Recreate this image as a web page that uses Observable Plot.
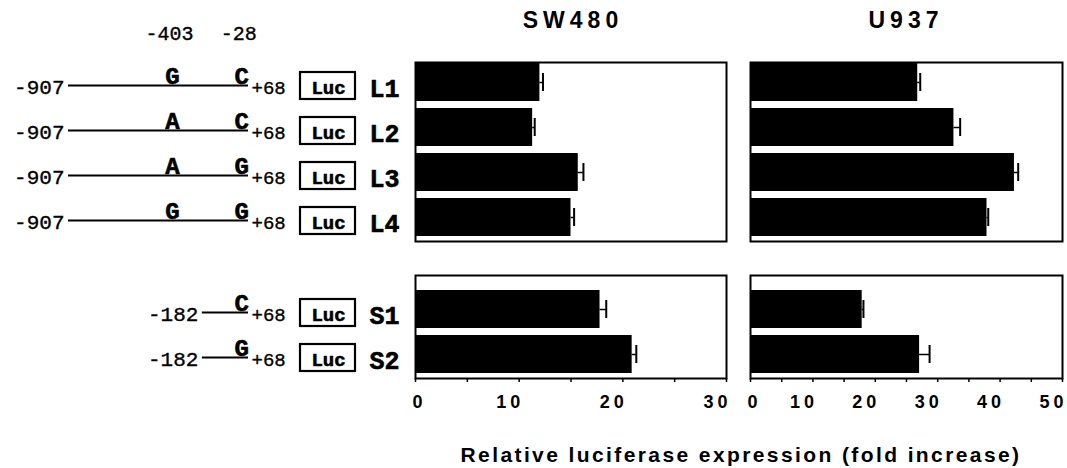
<!DOCTYPE html>
<html><head><meta charset="utf-8">
<script src="https://cdn.jsdelivr.net/npm/d3@7"></script>
<script src="https://cdn.jsdelivr.net/npm/@observablehq/plot@0.6"></script>
<style>
body{margin:0;background:#fff;}
#wrap{position:relative;width:1067px;height:468px;overflow:hidden;background:#fff;font-family:"Liberation Sans",Arial,sans-serif;color:#000;}
#wrap svg{position:absolute;overflow:visible;background:none;}
.title{position:absolute;font-weight:bold;font-size:23px;letter-spacing:5px;transform:translateX(-50%);white-space:nowrap;line-height:1;}
g[aria-label="x-axis tick label"] text{letter-spacing:4px;}
</style></head>
<body><div id="wrap"></div>
<script>
// ---- data ----
const longIds = ["L1", "L2", "L3", "L4"];
const shortIds = ["S1", "S2"];
const longStart = -907;
const shortStart = -182;
const endPos = 68;
const snpPositions = [-403, -28];
const allele403Long = ["G", "A", "A", "G"];
const allele28Long = ["C", "C", "G", "G"];
const allele28Short = ["C", "G"];
const sw480Long = [12.0, 11.3, 15.7, 15.0];
const sw480LongErr = [0.3, 0.2, 0.5, 0.3];
const sw480Short = [17.8, 20.9];
const sw480ShortErr = [0.6, 0.4];
const u937Long = [26.8, 32.6, 42.3, 37.9];
const u937LongErr = [0.4, 1.0, 0.6, 0.2];
const u937Short = [17.9, 27.1];
const u937ShortErr = [0.2, 1.6];
const sw480Max = 30;
const u937Max = 50;
const panelTitles = ["SW480", "U937"];
const xAxisTitle = "Relative luciferase expression (fold increase)";

// ---- layout ----
const wrap = document.getElementById("wrap");
const topGroup = {top: 0, height: 251, mT: 62, mB: 10, insetTop: 0, insetBottom: 4};
const botGroup = {top: 265, height: 203, mT: 10, mB: 90, insetTop: 15, insetBottom: 5};

function place(svg, left, top) {
  svg.style.left = left + "px";
  svg.style.top = top + "px";
  wrap.appendChild(svg);
}

function barPanel(ids, values, errs, g, left, width, mL, mR, xMax, withAxis) {
  const rows = ids.map((id, i) => ({id, value: values[i], err: errs[i]}));
  const marks = [
    Plot.barX(rows, {x: "value", y: "id", fill: "black"}),
    Plot.ruleY(rows, {y: "id", x1: "value", x2: d => d.value + d.err, stroke: "black", strokeWidth: 1.5}),
    Plot.tickX(rows, {x: d => d.value + d.err, y: "id", stroke: "black", strokeWidth: 2, insetTop: 10, insetBottom: 10}),
    Plot.frame({stroke: "black", strokeWidth: 2})
  ];
  if (withAxis) {
    const majors = d3.range(0, xMax + 1, 10);
    marks.push(Plot.axisX({
      ticks: d3.range(0, xMax + 1, 5), tickFormat: () => "",
      tickSize: 4, label: null, strokeWidth: 1.5
    }));
    marks.push(Plot.axisX({
      ticks: [0], tickSize: 0, tickPadding: 17, label: null,
      fontSize: 18, fontWeight: "bold", dx: 4
    }));
    marks.push(Plot.axisX({
      ticks: majors.slice(1), tickSize: 0, tickPadding: 17, label: null,
      fontSize: 18, fontWeight: "bold", dx: -9
    }));
  }
  const svg = Plot.plot({
    width, height: g.height,
    marginLeft: mL, marginRight: mR, marginTop: g.mT, marginBottom: g.mB,
    x: {domain: [0, xMax], ...(withAxis ? {} : {axis: null})},
    y: {domain: ids, paddingInner: 0.16, paddingOuter: 0, insetTop: g.insetTop, insetBottom: g.insetBottom, axis: null},
    style: {fontFamily: "'Liberation Sans', Arial, sans-serif", fontSize: "18px", background: "none", overflow: "visible"},
    marks
  });
  place(svg, left, g.top);
}

function diagram(ids, start, alleles, g, withHeader) {
  const rows = ids.map((id) => ({id, start}));
  const snps = [];
  alleles.forEach(([pos, arr]) => arr.forEach((a, i) => snps.push({id: ids[i], pos, allele: a})));
  const heavy = {fill: "black", stroke: "black", strokeWidth: 0.6};
  const medium = {fill: "black", stroke: "black", strokeWidth: 0.35};
  const marks = [
    Plot.ruleY(rows, {y: "id", x1: "start", x2: () => endPos, dy: 3, stroke: "black", strokeWidth: 2}),
    Plot.text(rows, {x: "start", y: "id", text: d => String(d.start), textAnchor: "end", dx: -4, dy: 5, fontSize: 21, ...medium}),
    Plot.text(snps, {x: "pos", y: "id", text: "allele", lineAnchor: "bottom", dy: 1, dx: 11, fontSize: 24, fontWeight: "bold", ...heavy}),
    Plot.text(rows, {x: () => endPos, y: "id", text: () => "+" + endPos, textAnchor: "start", dx: 3, dy: 5, fontSize: 19, ...medium}),
    Plot.barX(rows, {x1: () => endPos, x2: () => endPos, y: "id", insetLeft: 52, insetRight: -107, insetTop: 9, insetBottom: 2, fill: "white", stroke: "black", strokeWidth: 2.2}),
    Plot.text(rows, {x: () => endPos, y: "id", text: () => "Luc", dx: 80, dy: 5, fontSize: 19, fontWeight: "bold", ...heavy}),
    Plot.text(rows, {x: () => endPos, y: "id", text: "id", textAnchor: "start", dx: 121, dy: 6, fontSize: 25, fontWeight: "bold", ...heavy})
  ];
  if (withHeader) {
    marks.push(Plot.text(snpPositions, {x: d => d, text: d => String(d), frameAnchor: "top", lineAnchor: "middle", dy: -29, dx: 8, fontSize: 20, ...medium}));
  }
  const svg = Plot.plot({
    width: 405, height: g.height,
    marginLeft: 0, marginRight: 0, marginTop: g.mT, marginBottom: g.mB,
    x: {domain: [longStart, endPos], range: [68, 248], axis: null},
    y: {domain: ids, paddingInner: 0.16, paddingOuter: 0, insetTop: g.insetTop, insetBottom: g.insetBottom, axis: null},
    style: {fontFamily: "'Liberation Mono', 'Courier New', monospace", fontSize: "18px", background: "none", overflow: "visible"},
    marks
  });
  place(svg, 0, g.top);
}

diagram(longIds, longStart, [[-403, allele403Long], [-28, allele28Long]], topGroup, true);
diagram(shortIds, shortStart, [[-28, allele28Short]], botGroup, false);

barPanel(longIds, sw480Long, sw480LongErr, topGroup, 405, 331, 10, 10, sw480Max, false);
barPanel(shortIds, sw480Short, sw480ShortErr, botGroup, 405, 331, 10, 10, sw480Max, true);
barPanel(longIds, u937Long, u937LongErr, topGroup, 740, 327, 10, 5, u937Max, false);
barPanel(shortIds, u937Short, u937ShortErr, botGroup, 740, 327, 10, 5, u937Max, true);

function addTitle(text, cx, top, size) {
  const d = document.createElement("div");
  d.className = "title";
  d.textContent = text;
  d.style.left = cx + "px";
  d.style.top = top + "px";
  if (size) d.style.fontSize = size + "px";
  wrap.appendChild(d);
  return d;
}
addTitle(panelTitles[0], 573, 9);
addTitle(panelTitles[1], 906, 9);
const ax = addTitle(xAxisTitle, 741, 444, 21);
ax.style.letterSpacing = "2.4px";
</script>
</body></html>
